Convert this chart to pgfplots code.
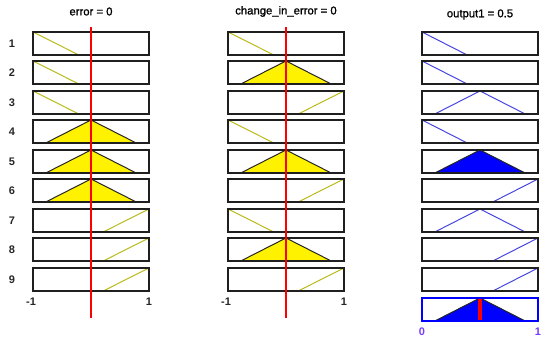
\documentclass[border=0pt]{standalone}
\usepackage{pgfplots}
\pgfplotsset{compat=1.18}
\usepackage{fontspec}
\setmainfont{Liberation Sans}
\newfontfamily\ttlfont[FakeBold=1.2]{Liberation Sans}
\definecolor{ylw}{RGB}{185,185,25}
\definecolor{bln}{RGB}{70,70,225}
\definecolor{tickc}{RGB}{120,60,255}
\pgfplotsset{
  mfbox/.style={scale only axis, width=116pt, height=23pt, anchor=north west,
    ymin=0, ymax=1, xtick=\empty, ytick=\empty, axis on top, clip=false,
    axis line style={line width=2pt, black!88}},
  inbox/.style={mfbox, xmin=-1, xmax=1},
  outbox/.style={mfbox, xmin=0, xmax=1},
}
\tikzset{
  inl/.style={color=ylw, line width=1pt},
  infill/.style={fill=yellow, draw=black!85, line width=1pt},
  outl/.style={color=bln, line width=1pt},
  outfill/.style={fill=blue, draw=black!85, line width=1pt},
  rowlab/.style={font=\bfseries\fontsize{11}{11}\selectfont, text=black!85},
  ticklab/.style={font=\bfseries\fontsize{11}{11}\selectfont, text=black!85},
  ttl/.style={font=\ttlfont\fontsize{11.3}{12}\selectfont},
}
% input MFs
\newcommand{\Ed}{\addplot[inl] coordinates {(-1,1)(-0.21,0)};}
\newcommand{\Ea}{\addplot[inl] coordinates {(0.21,0)(1,1)};}
\newcommand{\Ef}{\addplot[infill] coordinates {(-0.78,0)(0,1)(0.78,0)} \closedcycle;}
% output MFs
\newcommand{\Od}{\addplot[outl] coordinates {(0,1)(0.39,0)(1,0)};}
\newcommand{\Oa}{\addplot[outl] coordinates {(0,0)(0.61,0)(1,1)};}
\newcommand{\Ot}{\addplot[outl] coordinates {(0,0)(0.11,0)(0.5,1)(0.89,0)(1,0)};}
\newcommand{\Of}{\addplot[outl] coordinates {(0,0)(0.11,0)(0.89,0)(1,0)};
  \addplot[outfill] coordinates {(0.11,0)(0.5,1)(0.89,0)} \closedcycle;}
% box macros: #1 top (px), #2 plots
\newcommand{\EB}[2]{\begin{axis}[inbox, at={(33pt,-#1pt)}] #2 \end{axis}}
\newcommand{\CB}[2]{\begin{axis}[inbox, at={(228pt,-#1pt)}] #2 \end{axis}}
\newcommand{\OB}[2]{\begin{axis}[outbox, at={(422pt,-#1pt)}] #2 \end{axis}}
\begin{document}
\begin{tikzpicture}
\path[use as bounding box] (0pt,0pt) rectangle (550pt,-345pt);
% error column
\EB{32}{\Ed \node[ttl] at ([yshift=20.5pt]rel axis cs:0.5,1) {error = 0};
        \node[rowlab] at ([xshift=-21pt]rel axis cs:0,0.5) {1};}
\EB{61}{\Ed \node[rowlab] at ([xshift=-21pt]rel axis cs:0,0.5) {2};}
\EB{91}{\Ed \node[rowlab] at ([xshift=-21pt]rel axis cs:0,0.5) {3};}
\EB{120}{\Ef \node[rowlab] at ([xshift=-21pt]rel axis cs:0,0.5) {4};}
\EB{150}{\Ef \node[rowlab] at ([xshift=-21pt]rel axis cs:0,0.5) {5};}
\EB{179}{\Ef \node[rowlab] at ([xshift=-21pt]rel axis cs:0,0.5) {6};}
\EB{209}{\Ea \node[rowlab] at ([xshift=-21pt]rel axis cs:0,0.5) {7};}
\EB{238}{\Ea \node[rowlab] at ([xshift=-21pt]rel axis cs:0,0.5) {8};}
\EB{268}{\Ea \node[rowlab] at ([xshift=-21pt]rel axis cs:0,0.5) {9};
        \node[ticklab] at ([xshift=-2pt,yshift=-11pt]rel axis cs:0,0) {-1};
        \node[ticklab] at ([yshift=-11pt]rel axis cs:1,0) {1};}
% change_in_error column
\CB{32}{\Ed \node[ttl] at ([yshift=20.5pt]rel axis cs:0.5,1) {change\_in\_error = 0};}
\CB{61}{\Ef}
\CB{91}{\Ea}
\CB{120}{\Ed}
\CB{150}{\Ef}
\CB{179}{\Ea}
\CB{209}{\Ed}
\CB{238}{\Ef}
\CB{268}{\Ea
        \node[ticklab] at ([xshift=-2pt,yshift=-11pt]rel axis cs:0,0) {-1};
        \node[ticklab] at ([yshift=-11pt]rel axis cs:1,0) {1};}
% output column
\OB{32}{\Od \node[ttl] at ([yshift=17.5pt]rel axis cs:0.5,1) {output1 = 0.5};}
\OB{61}{\Od}
\OB{91}{\Ot}
\OB{120}{\Od}
\OB{150}{\Of}
\OB{179}{\Oa}
\OB{209}{\Ot}
\OB{238}{\Oa}
\OB{268}{\Oa}
% aggregate
\begin{axis}[outbox, at={(422pt,-298pt)}, axis line style={line width=1.5pt, blue}]
  \addplot[black!85, line width=1.2pt] coordinates {(0,0)(1,0)};
  \addplot[outfill] coordinates {(0.11,0)(0.5,1)(0.89,0)} \closedcycle;
  \addplot[red, line width=4pt] coordinates {(0.5,0)(0.5,1)};
  \node[ticklab, text=tickc] at ([yshift=-10.5pt]rel axis cs:0,0) {0};
  \node[ticklab, text=tickc] at ([yshift=-10.5pt]rel axis cs:1,0) {1};
\end{axis}
% red input indicator lines
\begin{axis}[scale only axis, hide axis, width=116pt, height=291pt, anchor=north west,
  at={(33pt,-27pt)}, xmin=-1, xmax=1, ymin=0, ymax=1, clip=false]
  \addplot[red, line width=1.6pt] coordinates {(0,0)(0,1)};
\end{axis}
\begin{axis}[scale only axis, hide axis, width=116pt, height=291pt, anchor=north west,
  at={(228pt,-27pt)}, xmin=-1, xmax=1, ymin=0, ymax=1, clip=false]
  \addplot[red, line width=1.6pt] coordinates {(0,0)(0,1)};
\end{axis}
\end{tikzpicture}
\end{document}
